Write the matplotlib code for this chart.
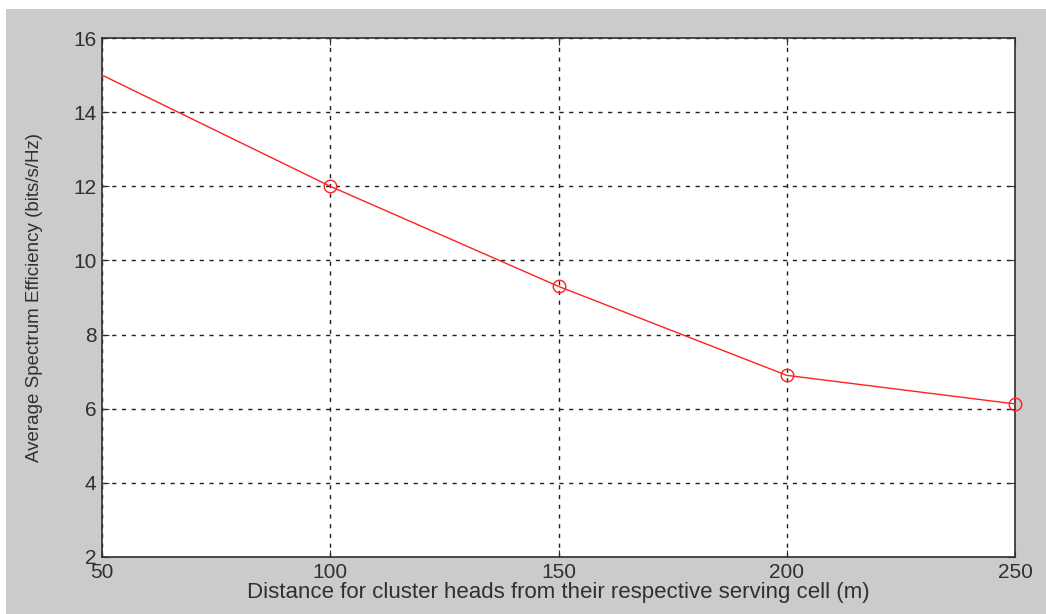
import matplotlib.pyplot as plt
from matplotlib.patches import Rectangle

plt.rcParams['font.family'] = ['Liberation Sans', 'DejaVu Sans']

# data
distance = [50, 100, 150, 200, 250]
efficiency = [15.0, 12.0, 9.3, 6.9, 6.13]
x_ticks = [50, 100, 150, 200, 250]
y_ticks = [2, 4, 6, 8, 10, 12, 14, 16]

fig = plt.figure(figsize=(10.46, 6.14), dpi=100, facecolor='white')
# grey matlab-style window background with a thin white border top/left
fig.patches.append(Rectangle((6 / 1046, 0), 1, 1 - 9 / 614, transform=fig.transFigure,
                             facecolor='#cbcbcb', edgecolor='none', zorder=-1))

ax = fig.add_axes([102 / 1046, 1 - 557 / 614, (1015 - 102) / 1046, (557 - 38) / 614])
ax.set_facecolor('white')

ax.plot(distance, efficiency, color='#ff2020', linewidth=1.0, marker='o',
        markersize=9, markerfacecolor='none', markeredgecolor='#ff2020',
        markeredgewidth=1.0, markevery=[1, 2, 3, 4], clip_on=False, zorder=3)

ax.set_xlim(50, 250)
ax.set_ylim(2, 16)
ax.set_xticks(x_ticks)
ax.set_yticks(y_ticks)
ax.grid(True, color='#202020', linestyle=(0, (3, 4)), linewidth=1.0)
ax.tick_params(direction='in', length=5, top=True, right=True, labelsize=15,
               colors='#303030', pad=4)

for s in ax.spines.values():
    s.set_color('#303030')
    s.set_linewidth(1.2)

ax.set_xlabel('Distance for cluster heads from their respective serving cell (m)',
              fontsize=16, color='#303030', labelpad=0)
ax.set_ylabel('Average Spectrum Efficiency (bits/s/Hz)', fontsize=13.5,
              color='#303030', labelpad=22)

fig.savefig('out.png', dpi=100, facecolor=fig.get_facecolor())
